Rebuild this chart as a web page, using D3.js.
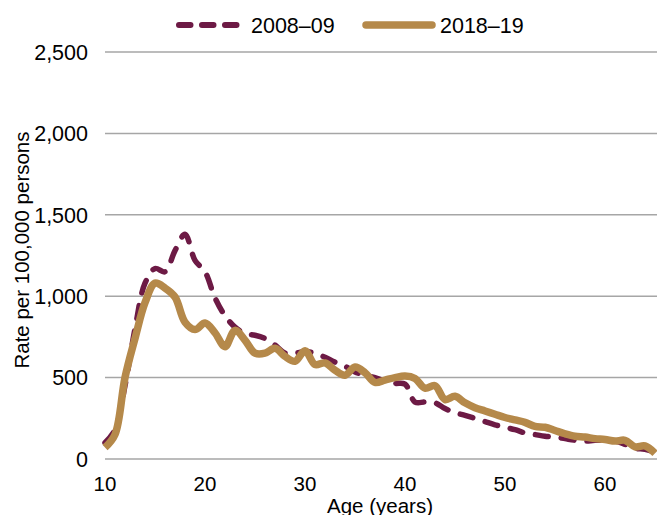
<!DOCTYPE html>
<html><head><meta charset="utf-8">
<script src="https://cdn.jsdelivr.net/npm/d3@7"></script>
<style>body{margin:0;background:#fff}svg{display:block}text{font-family:"Liberation Sans",Arial,sans-serif;fill:#000}</style>
</head><body>
<script>
const ages = d3.range(10, 66);
const rate2008 = [100,180,450,800,1080,1170,1150,1280,1380,1220,1150,990,880,810,770,760,740,700,650,650,
  660,650,625,595,570,535,515,500,480,465,460,350,350,345,310,285,268,250,230,210,
  195,180,160,150,140,135,125,115,110,115,115,110,90,65,60,40];
const rate2018 = [70,150,500,740,960,1080,1050,995,840,795,835,775,690,790,730,650,650,680,630,600,
  665,580,590,545,515,565,530,470,485,500,510,495,435,450,365,385,345,315,295,275,
  255,240,225,200,195,175,155,140,135,125,120,110,115,75,80,35];
const yTicks = [0,500,1000,1500,2000,2500];
const xTicks = [10,20,30,40,50,60];
const seriesNames = ["2008–09","2018–19"];
const colors = ["#6d1a45","#b5894a"];

const W=657,H=515,FS=21.5;
const svg=d3.select("body").append("svg").attr("width",W).attr("height",H);
const x=d3.scaleLinear().domain([10,65]).range([105,655]);
const y=d3.scaleLinear().domain([0,2500]).range([459,52]);

// gridlines
svg.append("g").selectAll("line").data(yTicks).join("line")
  .attr("x1",105).attr("x2",657).attr("y1",d=>y(d)).attr("y2",d=>y(d))
  .attr("stroke","#a6a6a6").attr("stroke-width",1.5);
// y labels
svg.append("g").selectAll("text").data(yTicks).join("text")
  .attr("x",88).attr("y",d=>y(d)).attr("dy","0.36em").attr("text-anchor","end")
  .attr("font-size",FS).text(d=>d3.format(",")(d));
// x labels
svg.append("g").selectAll("text").data(xTicks).join("text")
  .attr("x",d=>x(d)).attr("y",491).attr("text-anchor","middle")
  .attr("font-size",20.5).text(d=>d);
// axis titles
svg.append("text").attr("x",380).attr("y",513).attr("text-anchor","middle").attr("font-size",20.5).text("Age (years)");
svg.append("text").attr("transform","translate(29,250) rotate(-90)").attr("text-anchor","middle").attr("font-size",20.5).text("Rate per 100,000 persons");

const line=d3.line().x((d,i)=>x(ages[i])).y(d=>y(d)).curve(d3.curveCatmullRom.alpha(0.5));
svg.append("path").datum(rate2008).attr("d",line).attr("fill","none")
  .attr("stroke",colors[0]).attr("stroke-width",5.5).attr("stroke-dasharray","13,13").attr("stroke-linecap","round");
svg.append("path").datum(rate2018).attr("d",line).attr("fill","none")
  .attr("stroke",colors[1]).attr("stroke-width",7.5).attr("stroke-linejoin","round");

// legend
const lg=svg.append("g");
lg.append("line").attr("x1",179).attr("x2",237).attr("y1",25).attr("y2",25)
  .attr("stroke",colors[0]).attr("stroke-width",6).attr("stroke-dasharray","11.5,11.5").attr("stroke-linecap","round");
lg.append("text").attr("x",251).attr("y",25).attr("dy","0.36em").attr("font-size",FS).text(seriesNames[0]);
lg.append("line").attr("x1",366).attr("x2",432).attr("y1",25).attr("y2",25)
  .attr("stroke",colors[1]).attr("stroke-width",7.5).attr("stroke-linecap","round");
lg.append("text").attr("x",440).attr("y",25).attr("dy","0.36em").attr("font-size",FS).text(seriesNames[1]);
</script>
</body></html>
